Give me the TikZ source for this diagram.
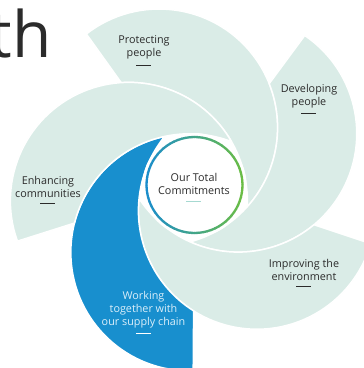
\documentclass[tikz,border=0pt]{standalone}
\usepackage{fontspec}
\setmainfont{Open Sans}
\usetikzlibrary{positioning}
\definecolor{mint}{HTML}{DAECE7}
\definecolor{chainblue}{HTML}{188FCE}
\definecolor{ringgreen}{HTML}{6ABD45}
\definecolor{ringblue}{HTML}{1B8DCC}
\definecolor{labelgrey}{HTML}{2B2B2B}
\definecolor{barteal}{HTML}{A6D9D1}
\definecolor{paletext}{HTML}{DCEFFA}

\tikzset{
  petal/.style={fill=mint, draw=white, line width=1.5pt, line join=round},
  goaltext/.style={align=center, font=\fontsize{10.8}{12.8}\selectfont, text=labelgrey, inner sep=0pt},
  underbar/.style={fill=#1, minimum width=15pt, minimum height=1.2pt, inner sep=0pt},
}

\newcommand{\swirlpetal}[2]{%
  \begin{scope}[shift={(hub)}, rotate=#1]
    \path[petal, #2] (4:125.92) -- (4:185.74)
      arc[start angle=6.28, end angle=-163.56, radius=118.5pt]
      arc[start angle=235.56, end angle=332.12, radius=118.5pt] -- cycle;
  \end{scope}}

\begin{document}
\begin{tikzpicture}[x=1pt, y=1pt]
\useasboundingbox (0,0) rectangle (364,368);
\clip (0,0) rectangle (364,368);
\coordinate (hub) at (194.5,183);

\swirlpetal{121.6}{}
\swirlpetal{49.6}{}
\swirlpetal{-22.4}{}
\swirlpetal{-94.4}{fill=chainblue}
\swirlpetal{-166.4}{}

\fill[white] (hub) circle[radius=52pt];
\foreach \a in {0,5,...,355}{
  \pgfmathsetmacro\mix{50+50*cos(\a+2.5)}
  \draw[ringgreen!\mix!ringblue, line width=2.3pt] (hub) ++(\a:48) arc[start angle=\a, end angle=\a+5.6, radius=48pt];
}

\node[anchor=base east, font=\fontsize{64}{64}\selectfont, text=labelgrey, inner sep=0pt] (heading) at (52,310) {th};

\node[goaltext] (protect) at (144,320.5) {Protecting\\people};
\node[underbar=labelgrey, below=5pt of protect] (protectbar) {};
\node[goaltext] (develop) at (309,272) {Developing\\people};
\node[underbar=labelgrey, below=5pt of develop] (developbar) {};
\node[goaltext] (enhance) at (48,181) {Enhancing\\communities};
\node[underbar=labelgrey, below=5pt of enhance] (enhancebar) {};
\node[goaltext] (total) at (194,184) {Our Total\\Commitments};
\node[underbar=barteal, below=6pt of total] (totalbar) {};
\node[goaltext] (improve) at (304,98) {Improving the\\environment};
\node[underbar=labelgrey, below=5pt of improve] (improvebar) {};
\node[goaltext, text=paletext] (supply) at (143.5,58.5) {Working\\together with\\our supply chain};
\node[underbar=white, below=5pt of supply] (supplybar) {};
\end{tikzpicture}
\end{document}
